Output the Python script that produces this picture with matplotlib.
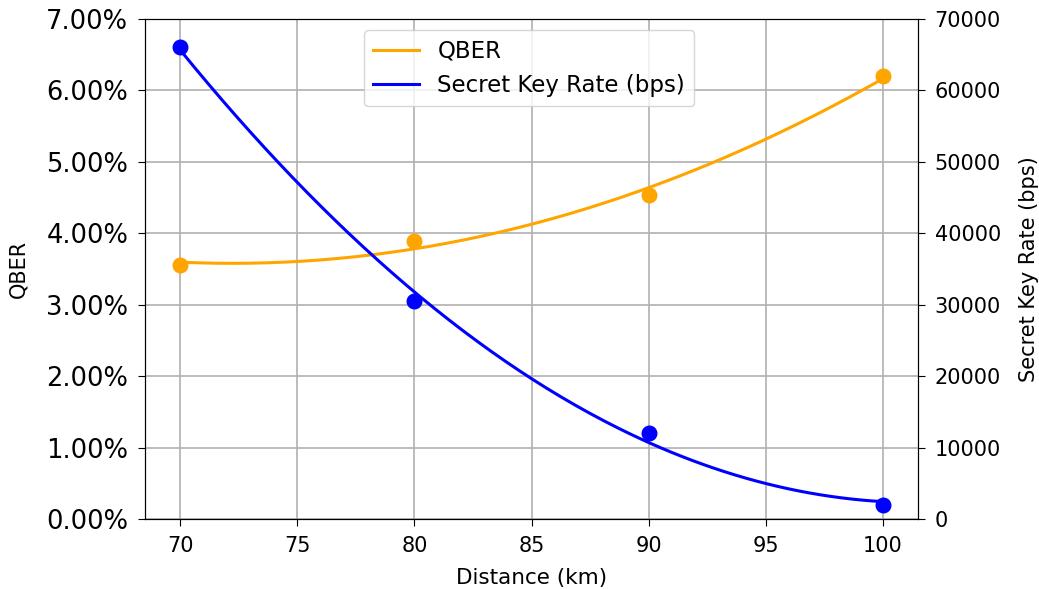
import matplotlib
matplotlib.use("Agg")
import matplotlib.pyplot as plt
import numpy as np
from matplotlib.ticker import FuncFormatter

distance_km = [70, 80, 90, 100]
qber_pct = [3.56, 3.89, 4.53, 6.20]
skr_bps = [66100, 30500, 12000, 2000]

fig = plt.figure(figsize=(10.39, 5.89), dpi=100)
ax = fig.add_axes([145 / 1039, 1 - 519 / 589, (918 - 145) / 1039, 500 / 589])
ax2 = ax.twinx()

# quadratic trend lines through the measured points
xs = np.linspace(min(distance_km), max(distance_km), 200)
q_fit = np.polyval(np.polyfit(distance_km, qber_pct, 2), xs)
s_fit = np.polyval(np.polyfit(distance_km, skr_bps, 2), xs)

ax.scatter(distance_km, qber_pct, color="orange", s=110, zorder=3)
l1, = ax.plot(xs, q_fit, color="orange", lw=2.2, label="QBER", zorder=3)
ax2.scatter(distance_km, skr_bps, color="blue", s=110, zorder=3)
l2, = ax2.plot(xs, s_fit, color="blue", lw=2.2, label="Secret Key Rate (bps)", zorder=3)

ax.set_ylim(0, 7)
ax.set_yticks(np.arange(0, 7.01, 1))
ax.yaxis.set_major_formatter(FuncFormatter(lambda v, p: f"{v:.2f}%"))
ax.tick_params(axis="y", labelsize=18.5, length=5, pad=7)
ax.tick_params(axis="x", labelsize=15, length=5, pad=7)
ax.set_xlim(68.5, 101.5)
ax.set_xticks([70, 75, 80, 85, 90, 95, 100])
ax.grid(color="#b0b0b0", linewidth=1.2)
ax.set_xlabel("Distance (km)", fontsize=15.5, labelpad=9)
ax.set_ylabel("QBER", fontsize=15, labelpad=13)

ax2.set_ylim(0, 70000)
ax2.set_yticks(np.arange(0, 70001, 10000))
ax2.tick_params(axis="y", labelsize=15, length=5, pad=7)
ax2.set_ylabel("Secret Key Rate (bps)", fontsize=15, labelpad=13)

ax.legend(handles=[l1, l2], loc="upper center", bbox_to_anchor=(0.497, 1.0), fontsize=16.5)

fig.savefig("out.png", dpi=100)
